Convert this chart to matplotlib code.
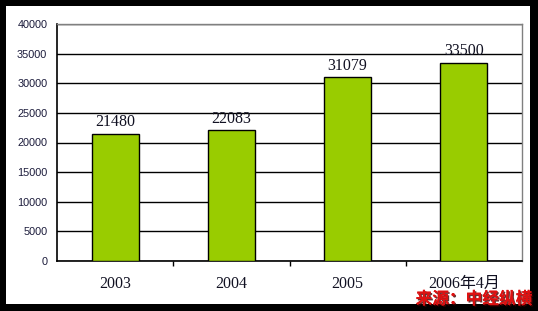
import numpy as np
import matplotlib.pyplot as plt
from matplotlib.patches import Rectangle
import matplotlib.patheffects as pe

years = ['2003', '2004', '2005', '2006年4月']
values = [21480, 22083, 31079, 33500]
yticks = [0, 5000, 10000, 15000, 20000, 25000, 30000, 35000, 40000]

W, H = 538, 311
fig = plt.figure(figsize=(W / 100, H / 100), dpi=100)
fig.patch.set_facecolor('black')
# white panel inside the black frame
fig.patches.append(Rectangle((6 / W, 1 - 304 / H), (530 - 6) / W, (304 - 6) / H,
                             transform=fig.transFigure, facecolor='white',
                             edgecolor='none', zorder=-10))

ax = fig.add_axes([57 / W, 1 - 261 / H, (522 - 57) / W, (261 - 24) / H])
ax.set_facecolor('none')

x = np.arange(len(years))
bars = ax.bar(x, values, width=0.405, color='#99CC00', edgecolor='black',
              linewidth=1.0, zorder=3)

for xi, v in zip(x, values):
    ax.text(xi, v + 550, str(v), ha='center', va='bottom', fontsize=11.5,
            family='Liberation Serif', color='#111122', zorder=4)

ax.set_xlim(-0.5, 3.5)
ax.set_ylim(0, 40000)
ax.set_yticks(yticks)
ax.set_yticklabels([str(t) for t in yticks], fontsize=7.8,
                   family='Liberation Sans', color='#1a1a3a')
ax.tick_params(axis='y', length=0, pad=7)
ax.yaxis.grid(True, color='black', linewidth=1.0, zorder=1)
ax.set_axisbelow(True)

ax.set_xticks(x)
ax.set_xticklabels(years, fontsize=11.5, family=['Liberation Serif', 'Noto Sans CJK SC'],
                   color='#111122')
ax.set_xticks([0.5, 1.5, 2.5], minor=True)
ax.tick_params(axis='x', which='major', length=0, pad=11)
ax.tick_params(axis='x', which='minor', length=3.5, width=1, direction='out')

for s in ['top', 'right']:
    ax.spines[s].set_color('#808080')
    ax.spines[s].set_linewidth(1)
for s in ['left', 'bottom']:
    ax.spines[s].set_color('black')
    ax.spines[s].set_linewidth(1.2)

fig.text(532 / W, 1 - 299 / H, '来源：中经纵横', ha='right', va='center',
         fontsize=12, fontweight='bold', family='Noto Sans CJK SC',
         color='#dd1111',
         path_effects=[pe.withSimplePatchShadow(offset=(1, -1), shadow_rgbFace='#400000', alpha=0.8),
                       pe.Normal()])

fig.savefig('out.png', dpi=100, facecolor=fig.get_facecolor())
